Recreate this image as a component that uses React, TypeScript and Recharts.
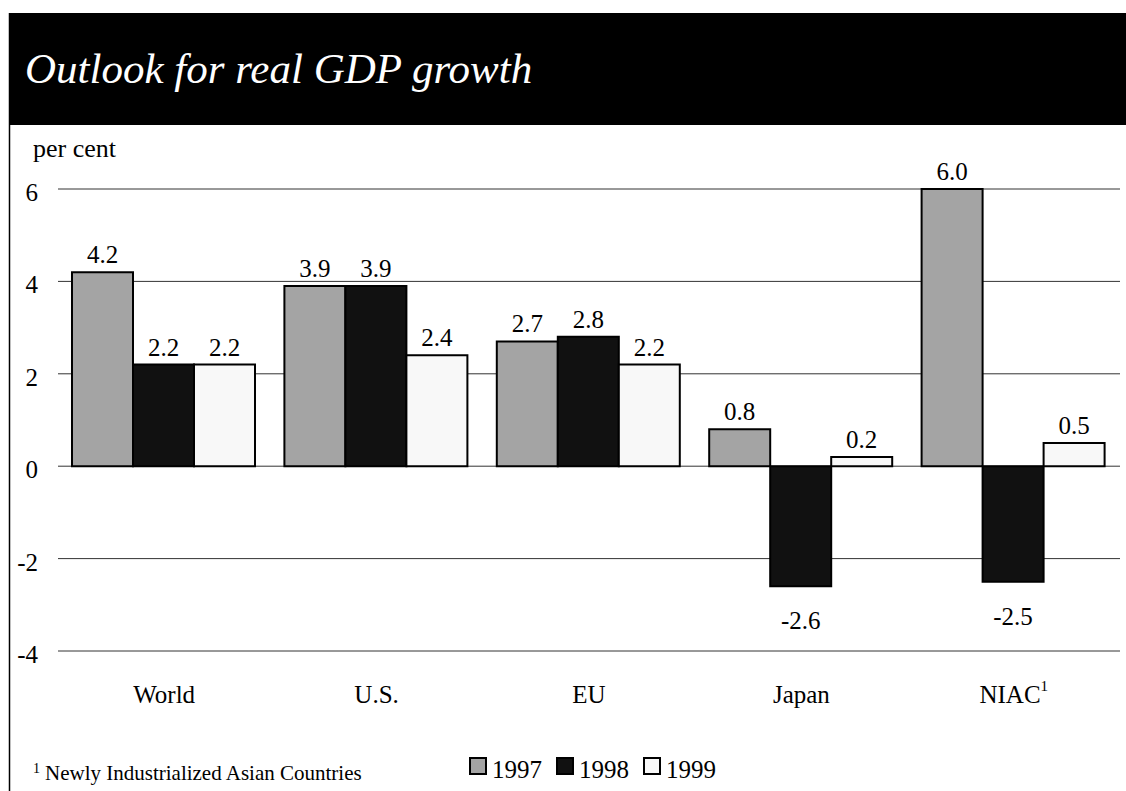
import { Bar, BarChart, CartesianGrid, LabelList, XAxis, YAxis } from "recharts";

// Outlook for real GDP growth, per cent
const categories = ["World", "U.S.", "EU", "Japan", "NIAC"];
const values1997 = [4.2, 3.9, 2.7, 0.8, 6.0];
const values1998 = [2.2, 3.9, 2.8, -2.6, -2.5];
const values1999 = [2.2, 2.4, 2.2, 0.2, 0.5];
const yTicks = [-4, -2, 0, 2, 4, 6];
const footnoted = ["NIAC"];

const FONT = '"Liberation Serif", "Times New Roman", serif';
const W = 1126;
const H = 791;

const series = [
  { key: "y1997", name: "1997", fill: "#a4a4a4", values: values1997 },
  { key: "y1998", name: "1998", fill: "#111111", values: values1998 },
  { key: "y1999", name: "1999", fill: "#f8f8f8", values: values1999 },
];

const data = categories.map((category, i) => {
  const row: Record<string, string | number> = { category };
  series.forEach((s) => {
    row[s.key] = s.values[i];
  });
  return row;
});

function ValueLabel(props: any) {
  const { x, y, width, height, value } = props;
  const top = Math.min(y, y + height);
  const bottom = Math.max(y, y + height);
  const ty = value >= 0 ? top - 9 : bottom + 43;
  return (
    <text x={x + width / 2} y={ty} textAnchor="middle" fontSize={25} fontFamily={FONT} fill="#000">
      {Number(value).toFixed(1)}
    </text>
  );
}

function YTick({ x, y, payload }: any) {
  return (
    <text x={x} y={y + 12} textAnchor="end" fontSize={25} fontFamily={FONT} fill="#000">
      {payload.value}
    </text>
  );
}

function XTick({ x, y, payload }: any) {
  const marked = footnoted.includes(payload.value);
  return (
    <text x={x} y={y + 44} textAnchor="middle" fontSize={25} fontFamily={FONT} fill="#000">
      {payload.value}
      {marked && (
        <tspan fontSize={15} dy={-12}>
          1
        </tspan>
      )}
    </text>
  );
}

export default function App() {
  return (
    <div style={{ position: "absolute", left: 0, top: 0, width: W, height: H, background: "#fff" }}>
      <svg width={W} height={H} style={{ position: "absolute", left: 0, top: 0 }}>
        <rect x={9} y={13} width={W - 9} height={112} fill="#000" />
        <line x1={9.5} y1={13} x2={9.5} y2={H} stroke="#000" strokeWidth={1.5} />
        <text x={25} y={83} fontSize={43} fontStyle="italic" fontFamily={FONT} fill="#fff">
          Outlook for real GDP growth
        </text>
        <text x={33} y={157} fontSize={26} fontFamily={FONT} fill="#000">
          per cent
        </text>
        <text x={33} y={773} fontSize={14} fontFamily={FONT} fill="#000">
          1
        </text>
        <text x={45} y={780} fontSize={21} fontFamily={FONT} fill="#000">
          Newly Industrialized Asian Countries
        </text>
        {series.map((s, i) => (
          <g key={s.key}>
            <rect x={470 + i * 87} y={758} width={16} height={16} fill={s.fill} stroke="#000" strokeWidth={2} />
            <text x={492 + i * 87} y={778} fontSize={25} fontFamily={FONT} fill="#000">
              {s.name}
            </text>
          </g>
        ))}
      </svg>
      <div style={{ position: "absolute", left: 0, top: 0 }}>
        <BarChart
          width={W}
          height={H}
          data={data}
          margin={{ top: 189, right: 6, bottom: 100, left: 8 }}
          barCategoryGap={14}
          barGap={0}
        >
          <CartesianGrid vertical={false} stroke="#333" />
          <XAxis
            dataKey="category"
            axisLine={false}
            tickLine={false}
            height={40}
            tick={<XTick />}
            interval={0}
          />
          <YAxis
            domain={[-4, 6]}
            ticks={yTicks}
            axisLine={false}
            tickLine={false}
            width={50}
            tickMargin={14}
            tick={<YTick />}
            interval={0}
          />
          {series.map((s) => (
            <Bar
              key={s.key}
              dataKey={s.key}
              name={s.name}
              fill={s.fill}
              stroke="#000"
              strokeWidth={2}
              isAnimationActive={false}
            >
              <LabelList dataKey={s.key} content={<ValueLabel />} />
            </Bar>
          ))}
        </BarChart>
      </div>
    </div>
  );
}
